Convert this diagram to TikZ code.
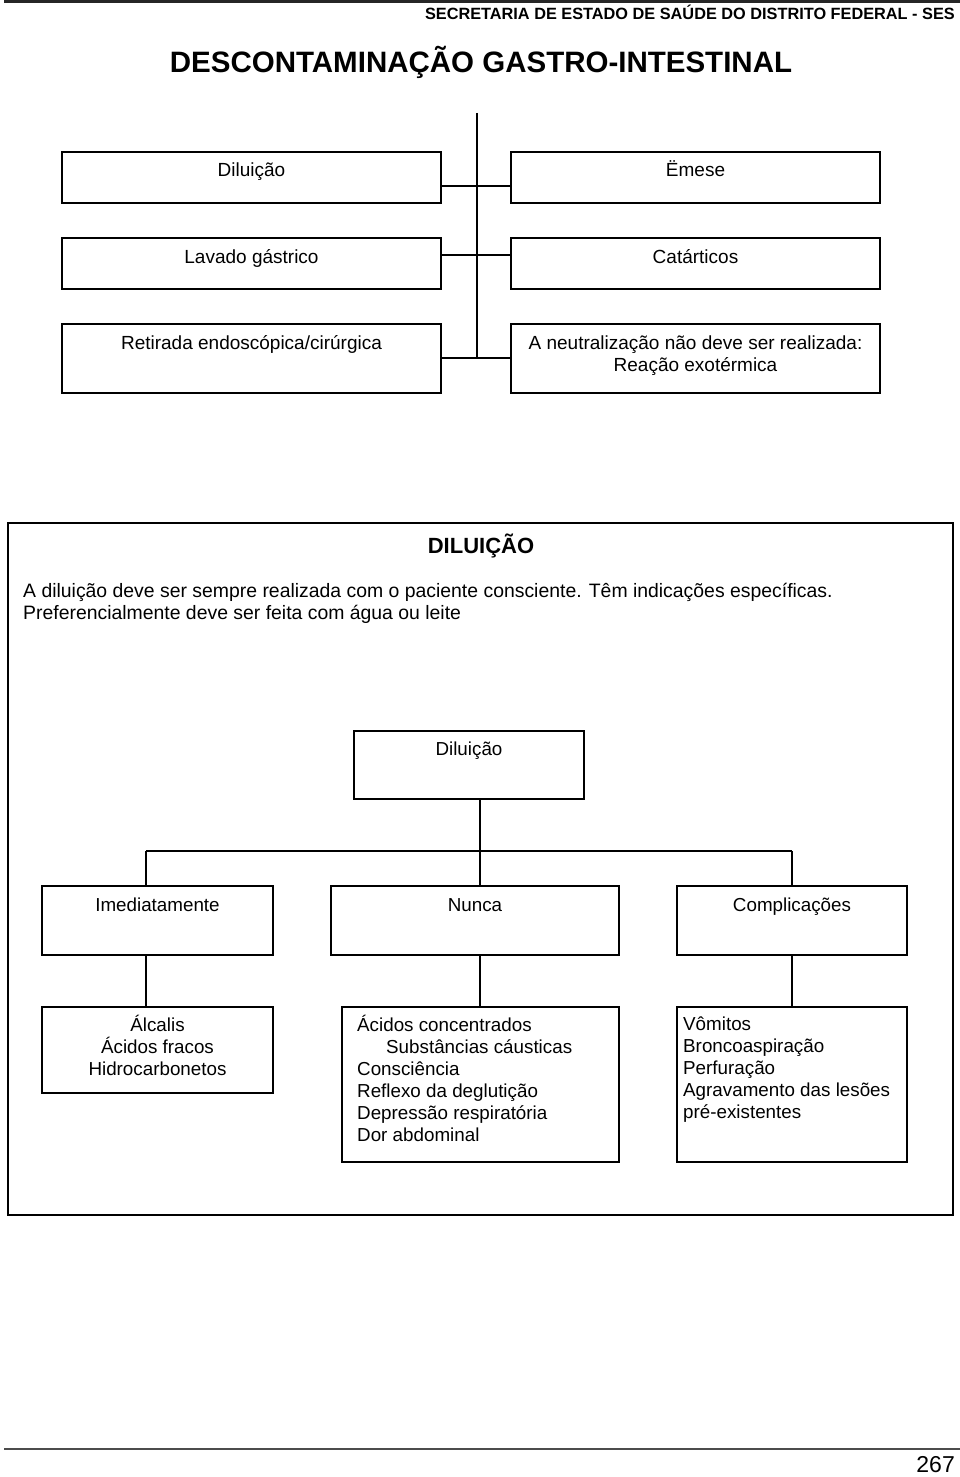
\documentclass[tikz,border=0pt]{standalone}
\usepackage{fontspec}
\setmainfont{Liberation Sans}
\newcommand{\T}{\rule{0pt}{20pt}}
\begin{document}
\begin{tikzpicture}[x=1pt,y=-1pt,
  box/.style={draw, line width=1.5pt, inner sep=0pt, outer sep=0pt, anchor=north west},
  ttxt/.style={inner sep=0pt, anchor=north, align=center, font=\fontsize{19}{22}\selectfont},
  ctxt/.style={inner sep=0pt, anchor=north, align=center, font=\fontsize{18.8}{22}\selectfont},
  ltxt/.style={inner sep=0pt, anchor=north west, align=left, font=\fontsize{18.8}{22}\selectfont},
  wire/.style={line width=1.5pt},
  rule/.style={line width=2.5pt, black!85},
]
\useasboundingbox (0,0) rectangle (960,1477);

% page header
\coordinate (hl0) at (4,1.5);
\coordinate (hl1) at (960,1.5);
\draw[rule] (hl0) -- (hl1);
\node[inner sep=0pt, anchor=base east, font=\bfseries\fontsize{16.3}{19}\selectfont] (header) at (955,20)
  {SECRETARIA DE ESTADO DE SAÚDE DO DISTRITO FEDERAL - SES};
\node[inner sep=0pt, anchor=base, font=\bfseries\fontsize{29.5}{34}\selectfont] (title) at (481,73)
  {DESCONTAMINAÇÃO GASTRO-INTESTINAL};

% top chart
\node[box, minimum width=379pt, minimum height=51pt,
  label={[ttxt, name=t1l, yshift=-4pt]north:\T Diluição}] (t1) at (62,152) {};
\node[box, minimum width=369pt, minimum height=51pt,
  label={[ttxt, name=t2l, yshift=-4pt]north:\T Ëmese}] (t2) at (511,152) {};
\node[box, minimum width=379pt, minimum height=51pt,
  label={[ttxt, name=t3l, yshift=-5pt]north:\T Lavado gástrico}] (t3) at (62,238) {};
\node[box, minimum width=369pt, minimum height=51pt,
  label={[ttxt, name=t4l, yshift=-5pt]north:\T Catárticos}] (t4) at (511,238) {};
\node[box, minimum width=379pt, minimum height=69pt,
  label={[ttxt, name=t5l, yshift=-5pt]north:\T Retirada endoscópica/cirúrgica}] (t5) at (62,324) {};
\node[box, minimum width=369pt, minimum height=69pt,
  label={[ttxt, name=t6l, yshift=-5pt]north:\T A neutralização não deve ser realizada:\\ Reação exotérmica}] (t6) at (511,324) {};

\coordinate (s0) at (477,113);
\coordinate (s1) at (477,186);
\coordinate (s2) at (477,255);
\coordinate (s3) at (477,358);
\draw[wire] (s0) -- (s3);
\draw[wire] (t1.east |- s1) -- (t2.west |- s1);
\draw[wire] (t3.east |- s2) -- (t4.west |- s2);
\draw[wire] (t5.east |- s3) -- (t6.west |- s3);

% DILUICAO frame
\node[box, minimum width=945pt, minimum height=692pt] (frame) at (8,523) {};
\node[inner sep=0pt, anchor=base, font=\bfseries\fontsize{22}{26}\selectfont] (dtitle) at (481,553) {DILUIÇÃO};
\node[inner sep=0pt, anchor=north west, align=left, font=\fontsize{19.4}{22}\selectfont] (para) at (23,577)
  {\T A diluição deve ser sempre realizada com o paciente consciente. Têm indicações específicas.\\
   Preferencialmente deve ser feita com água ou leite};

\node[box, minimum width=230pt, minimum height=68pt,
  label={[ctxt, name=d0l, yshift=-4pt]north:\T Diluição}] (d0) at (354,731) {};

\node[box, minimum width=231pt, minimum height=69pt,
  label={[ctxt, name=m1l, yshift=-5pt]north:\T Imediatamente}] (m1) at (42,886) {};
\node[box, minimum width=288pt, minimum height=69pt,
  label={[ctxt, name=m2l, yshift=-5pt]north:\T Nunca}] (m2) at (331,886) {};
\node[box, minimum width=230pt, minimum height=69pt,
  label={[ctxt, name=m3l, yshift=-5pt]north:\T Complicações}] (m3) at (677,886) {};

\node[box, minimum width=231pt, minimum height=86pt,
  label={[ctxt, name=b1l, yshift=-4pt]north:\T Álcalis\\ Ácidos fracos\\ Hidrocarbonetos}] (b1) at (42,1007) {};
\node[box, minimum width=277pt, minimum height=155pt,
  label={[ltxt, name=b2l, xshift=15pt, yshift=-4pt]north west:\T Ácidos concentrados\\
    \hspace*{29pt}Substâncias cáusticas\\ Consciência\\ Reflexo da deglutição\\
    Depressão respiratória\\ Dor abdominal}] (b2) at (342,1007) {};
\node[box, minimum width=230pt, minimum height=155pt,
  label={[ltxt, name=b3l, xshift=6pt, yshift=-3pt]north west:\T Vômitos\\ Broncoaspiração\\ Perfuração\\
    Agravamento das lesões\\ pré-existentes}] (b3) at (677,1007) {};

\coordinate (jL) at (146,851);
\coordinate (jC) at (480,851);
\coordinate (jR) at (792,851);
\draw[wire] (d0.south -| jC) -- (jC);
\draw[wire] (jL) -- (jR);
\draw[wire] (jL) -- (m1.north -| jL);
\draw[wire] (jC) -- (m2.north -| jC);
\draw[wire] (jR) -- (m3.north -| jR);
\draw[wire] (m1.south -| jL) -- (b1.north -| jL);
\draw[wire] (m2.south -| jC) -- (b2.north -| jC);
\draw[wire] (m3.south -| jR) -- (b3.north -| jR);

% page footer
\coordinate (fl0) at (4,1448.5);
\coordinate (fl1) at (960,1448.5);
\draw[line width=2pt, black!70] (fl0) -- (fl1);
\node[inner sep=0pt, anchor=base east, font=\fontsize{23}{27}\selectfont] (pageno) at (955,1472) {267};
\end{tikzpicture}
\end{document}
